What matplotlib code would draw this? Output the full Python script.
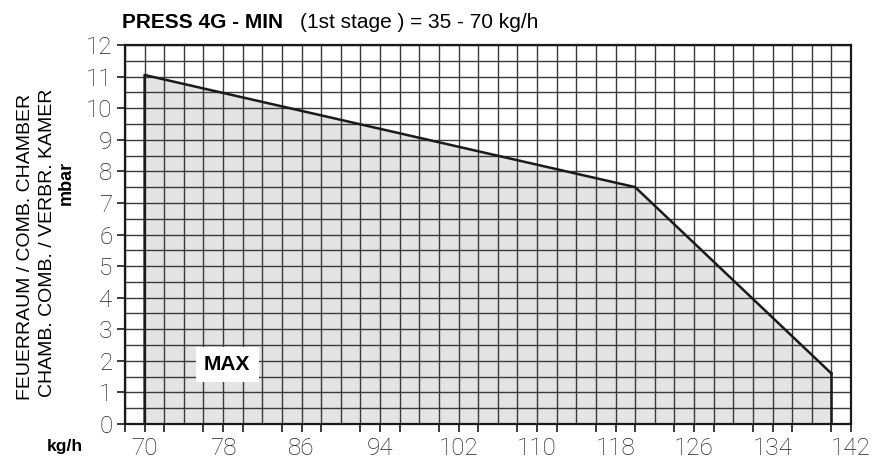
import numpy as np
import matplotlib.pyplot as plt
from matplotlib.ticker import FixedLocator

# curve of the working field (kg/h, mbar)
portata = [70, 70, 120, 140, 140]
pressione = [0, 11.05, 7.5, 1.6, 0]

x_major = np.arange(70, 143, 8)
x_minor = np.arange(68, 143, 4)
y_ticks = np.arange(0, 13, 1)

fig = plt.figure(figsize=(8.82, 4.61), dpi=100)
ax = fig.add_axes([125/882, 1-424/461, (851-125)/882, (424-45)/461])

ax.set_xlim(68, 142)
ax.set_ylim(0, 12)

# grid
for gx in np.arange(68, 143, 2):
    ax.axvline(gx, color="#3a3a3a", lw=1.0, zorder=1)
for gy in np.arange(0, 12.01, 0.5):
    ax.axhline(gy, color="#3a3a3a", lw=1.0, zorder=1)

ax.fill(portata, pressione, color="#e4e4e4", zorder=0)
ax.plot(portata[:-1], pressione[:-1], color="#1a1a1a", lw=1.8, zorder=3)
ax.plot([140, 140], [0, 1.6], color="#1a1a1a", lw=1.8, zorder=3)

ax.text(78.4, 1.88, "MAX", ha="center", va="center", fontsize=15,
        fontweight="bold", family="Liberation Sans", zorder=5,
        bbox=dict(boxstyle="square,pad=0.4", fc="white", ec="none"))

for s in ax.spines.values():
    s.set_linewidth(1.6)
    s.set_color("#1a1a1a")

ax.xaxis.set_major_locator(FixedLocator(x_major))
ax.xaxis.set_minor_locator(FixedLocator(x_minor))
ax.yaxis.set_major_locator(FixedLocator(y_ticks))
ax.tick_params(axis="both", which="both", direction="out", color="#1a1a1a",
               width=1.2, length=6)
ax.tick_params(axis="x", pad=3)
ax.tick_params(axis="y", pad=3)
for lab in ax.get_xticklabels() + ax.get_yticklabels():
    lab.set_fontfamily("Roboto")
    lab.set_fontweight("light")
    lab.set_fontsize(17.5)
    lab.set_color("#222222")

fig.text(122/882, 1-28/461, "PRESS 4G - MIN", fontsize=15, fontweight="bold",
         family="Liberation Sans", va="baseline")
fig.text(300/882, 1-28/461, "(1st stage ) = 35 - 70 kg/h", fontsize=15,
         family="Liberation Sans", va="baseline")

fig.text(26/882, 1-247/461, "FEUERRAUM / COMB. CHAMBER", rotation=90,
         fontsize=14, family="Liberation Sans", ha="center", va="center")
fig.text(48/882, 1-243/461, "CHAMB. COMB. / VERBR. KAMER", rotation=90,
         fontsize=14, family="Liberation Sans", ha="center", va="center")
fig.text(66/882, 1-183/461, "mbar", rotation=90, fontsize=13,
         fontweight="bold", family="Liberation Sans", ha="center", va="center")
fig.text(65/882, 1-446/461, "kg/h", fontsize=12.5, fontweight="bold",
         family="Liberation Sans", ha="center", va="center")

fig.savefig("out.png", dpi=100)
